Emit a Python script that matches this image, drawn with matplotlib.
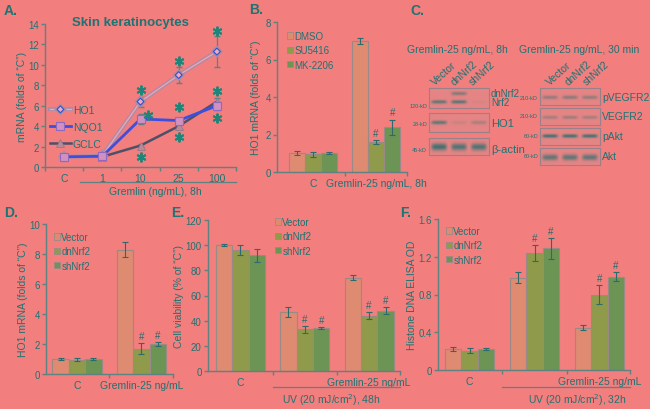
import numpy as np
import matplotlib
matplotlib.use('Agg')
import matplotlib.pyplot as plt
from matplotlib.lines import Line2D
from matplotlib.patches import Patch
import matplotlib.patheffects as pe
from matplotlib.colors import to_rgb
from matplotlib.transforms import blended_transform_factory

plt.rcParams['font.family'] = ['Liberation Sans', 'DejaVu Sans']

BG = '#F27E7E'
TXT = '#1E7373'
AXC = '#5E8282'
ERRC = '#2C6B6B'
C_VEC = '#DE8B72'
C_DN = '#8F9A4A'
C_SH = '#6C9455'
EDGE = '#9A8A86'
BOXBG = '#E58585'
BAND = '#2F7070'

# ---------------- data ----------------
# Panel A
a_cats = ['C', '1', '10', '25', '100']
a_ho1 = [1.0, 1.1, 6.4, 9.0, 11.3]
a_ho1_err = [0.0, 0.0, 0.5, 0.8, 1.55]
a_nqo1 = [1.0, 1.05, 4.7, 4.55, 6.0]
a_nqo1_err = [0.0, 0.0, 0.5, 0.2, 0.4]
a_gclc = [1.0, 1.0, 2.1, 4.0, 6.4]
a_gclc_err = [0.0, 0.0, 0.15, 0.3, 0.4]
a_star_x = [2, 2.2, 2, 3, 3, 3, 4, 4, 4]
a_star_y = [7.5, 5.1, 1.0, 10.4, 5.9, 2.9, 13.3, 7.4, 4.8]

# Panel B
b_groups = ['C', 'Gremlin-25 ng/mL, 8h']
b_series = ['DMSO', 'SU5416', 'MK-2206']
b_vals = [[1.0, 0.95, 1.0], [7.0, 1.6, 2.4]]
b_err = [[0.1, 0.13, 0.05], [0.17, 0.1, 0.4]]
b_hash = [[0, 0, 0], [0, 1, 1]]

# Panel D
d_groups = ['C', 'Gremlin-25 ng/mL']
nrf_series = ['Vector', 'dnNrf2', 'shNrf2']
d_vals = [[1.0, 0.95, 1.0], [8.3, 1.7, 2.0]]
d_err = [[0.05, 0.1, 0.05], [0.5, 0.35, 0.15]]
d_hash = [[0, 0, 0], [0, 1, 1]]

# Panel E
e_groups = ['C', '', 'Gremlin-25 ng/mL']
e_vals = [[100, 96, 92], [47, 33, 34], [74, 44, 48]]
e_err = [[1, 4, 5], [4, 3, 1], [2, 3, 3]]
e_hash = [[0, 0, 0], [0, 1, 1], [0, 1, 1]]

# Panel F
f_groups = ['C', '', 'Gremlin-25 ng/mL']
f_vals = [[0.22, 0.205, 0.225], [0.98, 1.24, 1.29], [0.45, 0.80, 0.99]]
f_err = [[0.02, 0.03, 0.01], [0.06, 0.08, 0.11], [0.03, 0.1, 0.05]]
f_hash = [[0, 0, 0], [0, 1, 1], [0, 1, 1]]

# Panel C blots (band intensities per lane: Vector, dnNrf2, shNrf2)
c1_lanes = ['Vector', 'dnNrf2', 'shNrf2']
c1_dnnrf2 = [0.0, 0.6, 0.0]
c1_nrf2 = [0.8, 0.85, 0.08]
c1_ho1 = [0.8, 0.15, 0.35]
c1_actin = [1.0, 0.9, 0.9]
c2_pvegfr2 = [0.5, 0.55, 0.5]
c2_vegfr2 = [0.4, 0.45, 0.4]
c2_pakt = [1.0, 1.0, 1.0]
c2_akt = [0.8, 0.8, 0.8]

# ---------------- figure ----------------
W, H = 650, 410
fig = plt.figure(figsize=(6.5, 4.1), dpi=100, facecolor=BG)


def px_axes(l, t, r, b):
    ax = fig.add_axes([l / W, 1 - b / H, (r - l) / W, (b - t) / H])
    ax.set_facecolor('none')
    return ax


def ftext(x, y, s, **kw):
    kw.setdefault('color', TXT)
    fig.text(x / W, 1 - y / H, s, **kw)


def style(ax):
    for s in ['top', 'right']:
        ax.spines[s].set_visible(False)
    for s in ['left', 'bottom']:
        ax.spines[s].set_color(AXC)
        ax.spines[s].set_linewidth(1.0)
    ax.tick_params(axis='both', colors=AXC, labelcolor=TXT, labelsize=7,
                   length=3, width=1, direction='out', pad=1.5)


def bar_panel(ax, vals, errs, hashes, groups, xlim, ylim, yticks, ylabels):
    w = 0.255
    cols = [C_VEC, C_DN, C_SH]
    vals = np.array(vals, float)
    errs = np.array(errs, float)
    ng = vals.shape[0]
    for j in range(3):
        x = np.arange(ng) + (j - 1) * w
        ax.bar(x, vals[:, j], width=w, color=cols[j], edgecolor=EDGE, linewidth=0.8, zorder=2)
        ax.errorbar(x, vals[:, j], yerr=errs[:, j], fmt='none', ecolor=ERRC,
                    elinewidth=0.8, capsize=2, capthick=0.8, zorder=3)
        for g in range(ng):
            if hashes[g][j]:
                ax.annotate('#', (x[g], vals[g, j] + errs[g, j]), xytext=(0, 1.5),
                            textcoords='offset points', ha='center', va='bottom',
                            fontsize=7, color=ERRC)
    style(ax)
    ax.set_xlim(*xlim)
    ax.set_ylim(*ylim)
    ax.set_yticks(yticks)
    ax.set_yticklabels(ylabels)
    bnds = [g + 0.5 for g in range(ng - 1)] + [xlim[1]]
    ax.set_xticks(bnds)
    ax.set_xticklabels([])
    ax.set_xticks(range(ng), groups, minor=True)
    ax.tick_params(axis='x', which='minor', length=0, pad=4, labelsize=7.5, labelcolor=TXT)


def legend(x, y, labels):
    hs = [Patch(facecolor=c, edgecolor=EDGE, linewidth=0.6) for c in [C_VEC, C_DN, C_SH]]
    fig.legend(hs, labels, loc='upper left', bbox_to_anchor=(x / W, 1 - y / H),
               bbox_transform=fig.transFigure, frameon=False, fontsize=7,
               handlelength=0.6, handleheight=0.6, handletextpad=0.15,
               labelspacing=0.45, borderpad=0, borderaxespad=0, labelcolor=TXT)


def underline(ax, x0, x1, yfrac, text, xt, yfrac_t, fs=7.5):
    tr = blended_transform_factory(ax.transData, ax.transAxes)
    ax.plot([x0, x1], [yfrac, yfrac], transform=tr, color=AXC, lw=0.9, clip_on=False)
    ax.text(xt, yfrac_t, text, transform=tr, ha='center', va='center', fontsize=fs, color=TXT)


# ---------------- Panel A ----------------
axA = px_axes(45, 25, 236, 168)
style(axA)
xa = np.arange(len(a_cats))
axA.errorbar(xa, a_ho1, yerr=a_ho1_err, fmt='none', ecolor=AXC, elinewidth=0.9, capsize=2, zorder=2)
axA.errorbar(xa, a_nqo1, yerr=a_nqo1_err, fmt='none', ecolor=AXC, elinewidth=0.9, capsize=2, zorder=2)
axA.errorbar(xa, a_gclc, yerr=a_gclc_err, fmt='none', ecolor=AXC, elinewidth=0.9, capsize=2, zorder=2)
ho1_kw = dict(color='#EFA3B3', lw=1.0, marker='D', ms=3.5, mfc='#F5A8B5', mec='#3050D0', mew=0.8,
              path_effects=[pe.Stroke(linewidth=2.8, foreground='#A58DAA'), pe.Normal()])
gclc_kw = dict(color='#4E5068', lw=1.8, marker='^', ms=5.5, mfc='#B88A98', mec='#9A7888', mew=0.6)
nqo1_kw = dict(color='#3B4FE0', lw=2.0, marker='s', ms=5.5, mfc='#D090C0', mec='#9068C0', mew=0.8)
axA.plot(xa, a_gclc, zorder=3, **gclc_kw)
axA.plot(xa, a_ho1, zorder=4, **ho1_kw)
axA.plot(xa, a_nqo1, zorder=5, **nqo1_kw)
axA.plot(a_star_x, a_star_y, ls='none', marker=(6, 2, 0), ms=7, mew=1.4, color='#1E8579', zorder=6, clip_on=False)
axA.set_xlim(-0.5, 4.5)
axA.set_ylim(0, 14)
axA.set_yticks(range(0, 15, 2))
axA.set_xticks(np.arange(-0.5, 4.6, 1))
axA.set_xticklabels([])
axA.set_xticks(xa, a_cats, minor=True)
axA.tick_params(axis='x', which='minor', length=0, pad=4, labelsize=7.5, labelcolor=TXT)
axA.set_ylabel('mRNA (folds of \u201cC\u201d)', fontsize=7.5, color=TXT, labelpad=1)
underline(axA, 0.42, 4.5, -0.105, 'Gremlin (ng/mL), 8h', 2.4, -0.17)
hA = [Line2D([], [], **ho1_kw), Line2D([], [], **nqo1_kw), Line2D([], [], **gclc_kw)]
axA.legend(hA, ['HO1', 'NQO1', 'GCLC'], loc='upper left', bbox_to_anchor=(50 / W, 1 - 106 / H),
           bbox_transform=fig.transFigure, frameon=False, fontsize=7.5, handlelength=2.0,
           handletextpad=0.2, labelspacing=0.65, borderpad=0, borderaxespad=0, labelcolor=TXT)
ftext(130, 23, 'Skin keratinocytes', ha='center', va='center', fontsize=9.5, fontweight='bold')

# ---------------- Panel B ----------------
axB = px_axes(277, 23, 407, 173)
bar_panel(axB, b_vals, b_err, b_hash, b_groups, (-0.57, 1.49), (0, 8), range(0, 9, 2),
          [str(v) for v in range(0, 9, 2)])
axB.set_ylabel('HO1 mRNA (folds of \u201cC\u201d)', fontsize=7.5, color=TXT, labelpad=3)
legend(287, 32, b_series)

# ---------------- Panel D ----------------
axD = px_axes(46, 225, 173, 375)
bar_panel(axD, d_vals, d_err, d_hash, d_groups, (-0.48, 1.49), (0, 10), range(0, 11, 2),
          [str(v) for v in range(0, 11, 2)])
axD.set_ylabel('HO1 mRNA (folds of \u201cC\u201d)', fontsize=7.5, color=TXT, labelpad=1)
legend(54, 233, nrf_series)

# ---------------- Panel E ----------------
axE = px_axes(208, 221, 400, 372)
bar_panel(axE, e_vals, e_err, e_hash, e_groups, (-0.505, 2.48), (0, 120), range(0, 121, 20),
          [str(v) for v in range(0, 121, 20)])
axE.set_ylabel('Cell viability (% of \u201cC\u201d)', fontsize=7.5, color=TXT, labelpad=1)
underline(axE, 0.5, 2.48, -0.106, 'UV (20 mJ/cm$^2$), 48h', 1.41, -0.185)
legend(275, 218, nrf_series)

# ---------------- Panel F ----------------
axF = px_axes(438, 220, 630, 371)
bar_panel(axF, f_vals, f_err, f_hash, f_groups, (-0.486, 2.47), (0, 1.6),
          [0, 0.4, 0.8, 1.2, 1.6], ['0', '0.4', '0.8', '1.2', '1.6'])
axF.set_ylabel('Histone DNA ELISA OD', fontsize=7.5, color=TXT, labelpad=1)
underline(axF, 0.5, 2.47, -0.113, 'UV (20 mJ/cm$^2$), 32h', 1.66, -0.19)
legend(446, 227, nrf_series)

# ---------------- Panel C (blots) ----------------
def blot(l, t, r, b, rows, ycs, sy):
    ax = px_axes(l, t, r, b)
    nx, ny = 120, 40
    xx = np.linspace(0, 1, nx)[None, :]
    yy = np.linspace(0, 1, ny)[:, None]
    v = np.zeros((ny, nx))
    for row, yc in zip(rows, ycs):
        for k, a in enumerate(row):
            xc = (k + 0.5) / 3
            v += a * np.exp(-((xx - xc) / 0.13) ** 6) * np.exp(-((yy - yc) / sy) ** 2)
    v = np.clip(v, 0, 1) * 0.9
    bg = np.array(to_rgb(BOXBG))
    band = np.array(to_rgb(BAND))
    img = bg * (1 - v[..., None]) + band * v[..., None]
    ax.imshow(img, extent=[0, 1, 1, 0], aspect='auto', interpolation='bilinear')
    ax.set_xlim(0, 1)
    ax.set_ylim(1, 0)
    ax.set_xticks([])
    ax.set_yticks([])
    for s in ax.spines.values():
        s.set_color('#9A8088')
        s.set_linewidth(0.8)
    return ax


blot(429, 89, 489, 109, [c1_dnnrf2, c1_nrf2], [0.27, 0.7], 0.09)
blot(429, 114, 489, 133, [c1_ho1], [0.5], 0.1)
blot(429, 139, 489, 156, [c1_actin], [0.55], 0.2)
blot(540, 89, 600, 106, [c2_pvegfr2], [0.55], 0.11)
blot(540, 109, 600, 126, [c2_vegfr2], [0.55], 0.1)
blot(540, 129, 600, 146, [c2_pakt], [0.5], 0.1)
blot(540, 149, 600, 166, [c2_akt], [0.55], 0.18)

ftext(457, 50, 'Gremlin-25 ng/mL, 8h', ha='center', va='center', fontsize=7.5)
ftext(579, 50, 'Gremlin-25 ng/mL, 30 min', ha='center', va='center', fontsize=7.5)
for x0, lab in zip([435, 455, 473], c1_lanes):
    ftext(x0, 86, lab, rotation=42, rotation_mode='anchor', ha='left', va='baseline', fontsize=7.5)
for x0, lab in zip([550, 569, 587], c1_lanes):
    ftext(x0, 86, lab, rotation=42, rotation_mode='anchor', ha='left', va='baseline', fontsize=7.5)
ftext(491, 94, 'dnNrf2', ha='left', va='center', fontsize=7)
ftext(491, 103, 'Nrf2', ha='left', va='center', fontsize=7)
ftext(491, 124, 'HO1', ha='left', va='center', fontsize=8)
ftext(491, 150, '\u03b2-actin', ha='left', va='center', fontsize=8)
ftext(602, 98, 'pVEGFR2', ha='left', va='center', fontsize=7.5)
ftext(602, 117, 'VEGFR2', ha='left', va='center', fontsize=7.5)
ftext(602, 137, 'pAkt', ha='left', va='center', fontsize=7.5)
ftext(602, 157, 'Akt', ha='left', va='center', fontsize=7.5)
for y, s in [(106, '120-kD'), (124, '28-kD'), (151, '45-kD')]:
    ftext(427, y, s, ha='right', va='center', fontsize=4)
for y, s in [(99, '210-kD'), (117, '210-kD'), (137, '60-kD'), (157, '60-kD')]:
    ftext(538, y, s, ha='right', va='center', fontsize=4)

# ---------------- panel letters ----------------
for x, y, s in [(4, 11, 'A.'), (249, 10, 'B.'), (410, 11, 'C.'), (4, 213, 'D.'), (171, 213, 'E.'), (400, 213, 'F.')]:
    ftext(x, y, s, ha='left', va='center', fontsize=10, fontweight='bold')

fig.savefig('out.png', dpi=100, facecolor=BG)
